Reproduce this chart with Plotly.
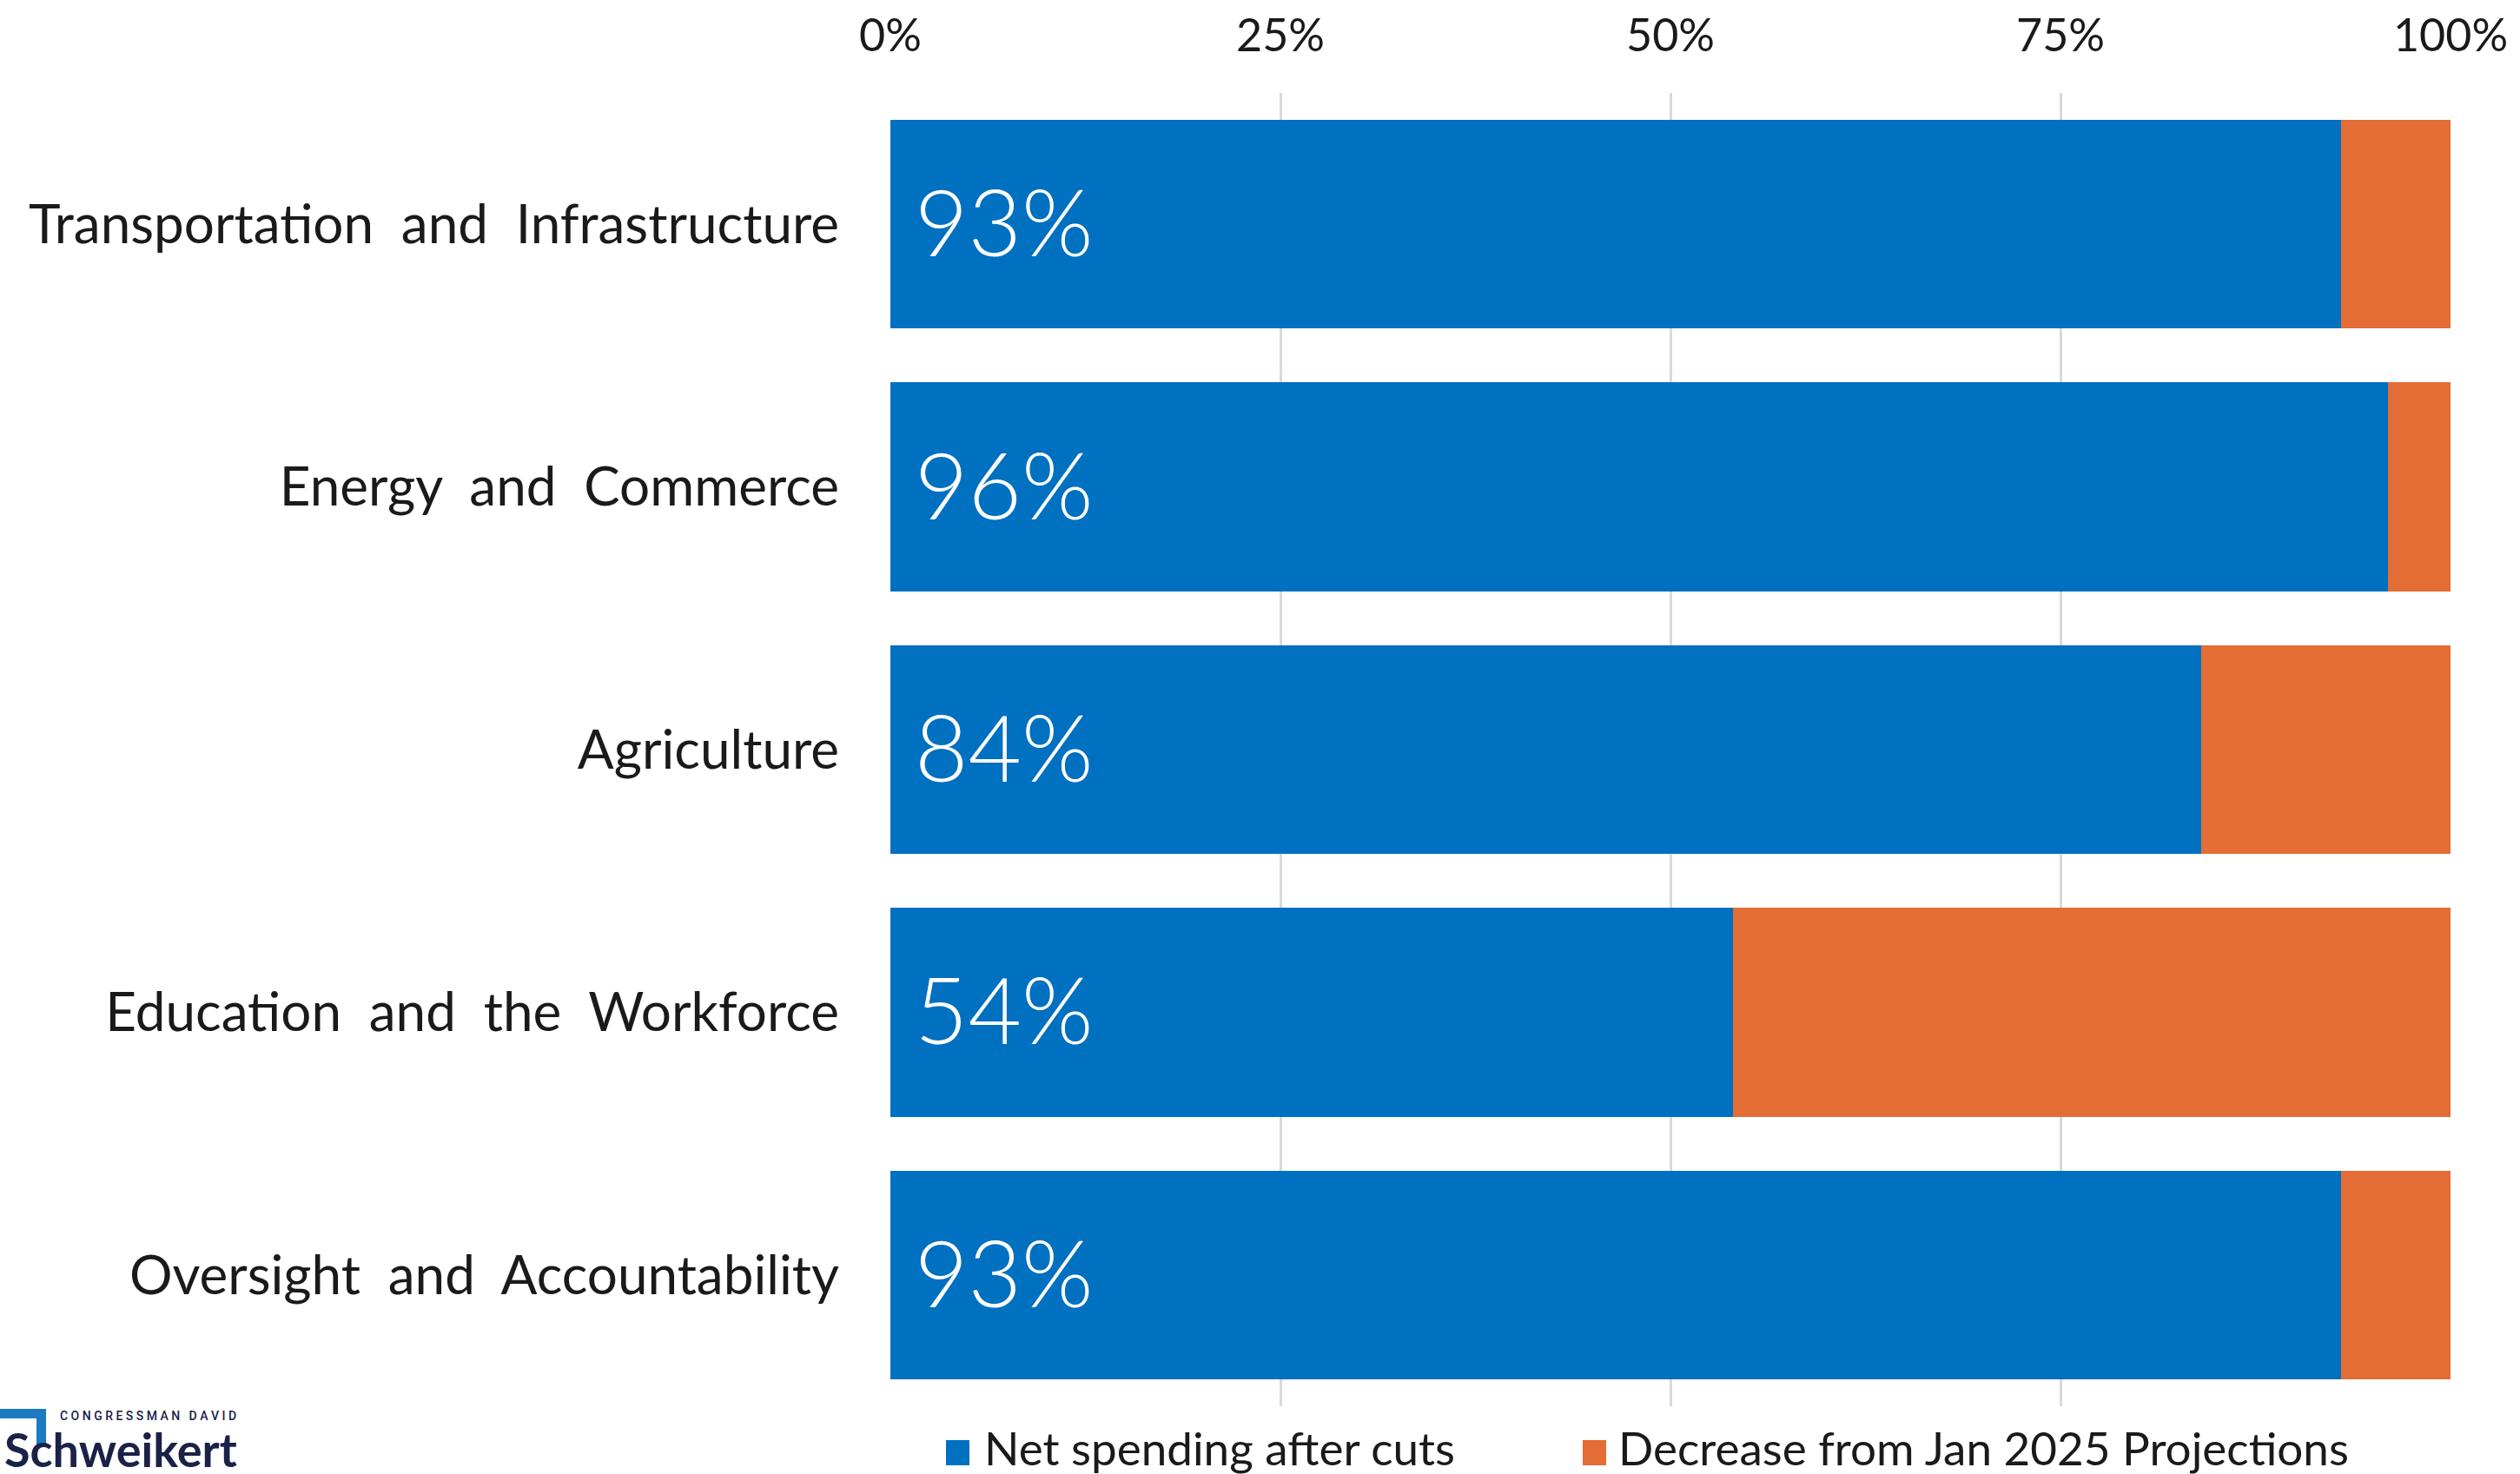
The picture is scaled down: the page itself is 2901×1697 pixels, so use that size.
import plotly.graph_objects as go

# Committee spending: share kept vs. share cut from the Jan 2025 baseline
committees = [
    "Transportation and Infrastructure",
    "Energy and Commerce",
    "Agriculture",
    "Education and the Workforce",
    "Oversight and Accountability",
]
net_spending = [93, 96, 84, 54, 93]
decrease = [7, 4, 16, 46, 7]
x_ticks = [0, 25, 50, 75, 100]
x_tick_labels = ["0%", "25%", "50%", "75%", "100%"]
legend_names = ["Net spending after cuts", "Decrease from Jan 2025 Projections"]

BLUE = "#0070C0"
ORANGE = "#E46C35"
GRID = "#D9D9D9"
NAVY = "#1B2147"
FONT = "Lato"

W, H = 2901, 1697
L, R, T, B = 1025, 80, 107, 78
PW, PH = W - L - R, H - T - B


def px(x):
    return (x - L) / PW


def py(y):
    return (H - B - y) / PH


def spaced(name):
    # wider word gaps for the category labels
    return name.replace(" ", "\u00a0 ")


fig = go.Figure()
fig.add_trace(go.Bar(
    y=committees, x=net_spending, orientation="h",
    name=legend_names[0], marker=dict(color=BLUE, line=dict(width=0)),
    showlegend=False, hoverinfo="x+y",
))
fig.add_trace(go.Bar(
    y=committees, x=decrease, orientation="h",
    name=legend_names[1], marker=dict(color=ORANGE, line=dict(width=0)),
    showlegend=False, hoverinfo="x+y",
))

# Value labels at the start of each blue bar
for cat, v in zip(committees, net_spending):
    fig.add_annotation(
        x=0, y=cat, xref="x", yref="y", text=f"{v}%", showarrow=False,
        xanchor="left", yanchor="middle", xshift=26, yshift=4,
        font=dict(family=FONT, size=106, color="white", weight=300),
    )

# Legend drawn as swatches + labels along the bottom
legend_items = [
    (1089, 1116, 1131, BLUE, legend_names[0]),
    (1822, 1849, 1861, ORANGE, legend_names[1]),
]
for x0, x1, tx, col, label in legend_items:
    fig.add_shape(
        type="rect", xref="paper", yref="paper",
        x0=px(x0), x1=px(x1), y0=py(1687), y1=py(1658),
        fillcolor=col, line=dict(width=0),
    )
    fig.add_annotation(
        x=px(tx), y=py(1667), xref="paper", yref="paper", text=label,
        showarrow=False, xanchor="left", yanchor="middle",
        font=dict(family=FONT, size=53, color="#1A1A1A"),
    )

# Logo block in the lower-left corner
fig.add_shape(type="rect", xref="paper", yref="paper",
              x0=px(0), x1=px(53), y0=py(1633), y1=py(1622),
              fillcolor="#1A7BC0", line=dict(width=0))
fig.add_shape(type="rect", xref="paper", yref="paper",
              x0=px(42), x1=px(53), y0=py(1666), y1=py(1622),
              fillcolor="#1A7BC0", line=dict(width=0))
fig.add_annotation(
    x=px(67), y=py(1630), xref="paper", yref="paper",
    text="C O N G R E S S M A N &nbsp; D A V I D", showarrow=False,
    xanchor="left", yanchor="middle",
    font=dict(family="Roboto", size=14, color=NAVY, weight=500),
)
fig.add_annotation(
    x=px(3), y=py(1668), xref="paper", yref="paper",
    text="<b>Schweikert</b>", showarrow=False,
    xanchor="left", yanchor="middle",
    font=dict(family=FONT, size=54, color=NAVY),
)

fig.update_layout(
    width=W, height=H, autosize=False,
    margin=dict(l=L, r=R, t=T, b=B, pad=0),
    barmode="stack", bargap=0.205,
    plot_bgcolor="white", paper_bgcolor="white",
    font=dict(family=FONT, color="#1A1A1A"),
    showlegend=False,
    xaxis=dict(
        range=[0, 100], side="top", tickvals=x_ticks, ticktext=x_tick_labels,
        showgrid=True, gridcolor=GRID, gridwidth=3,
        zeroline=False, showline=False, ticks="",
        tickfont=dict(family=FONT, size=52, color="#1A1A1A"),
        ticklabelstandoff=37, automargin=False, fixedrange=True,
    ),
    yaxis=dict(
        categoryorder="array", categoryarray=committees, autorange="reversed",
        tickmode="array", tickvals=committees,
        ticktext=[spaced(c) for c in committees],
        showgrid=False, zeroline=False, showline=False, ticks="",
        tickfont=dict(family=FONT, size=62, color="#1A1A1A"),
        ticklabelstandoff=58, automargin=False, fixedrange=True,
    ),
)

fig.write_html("out.html")
